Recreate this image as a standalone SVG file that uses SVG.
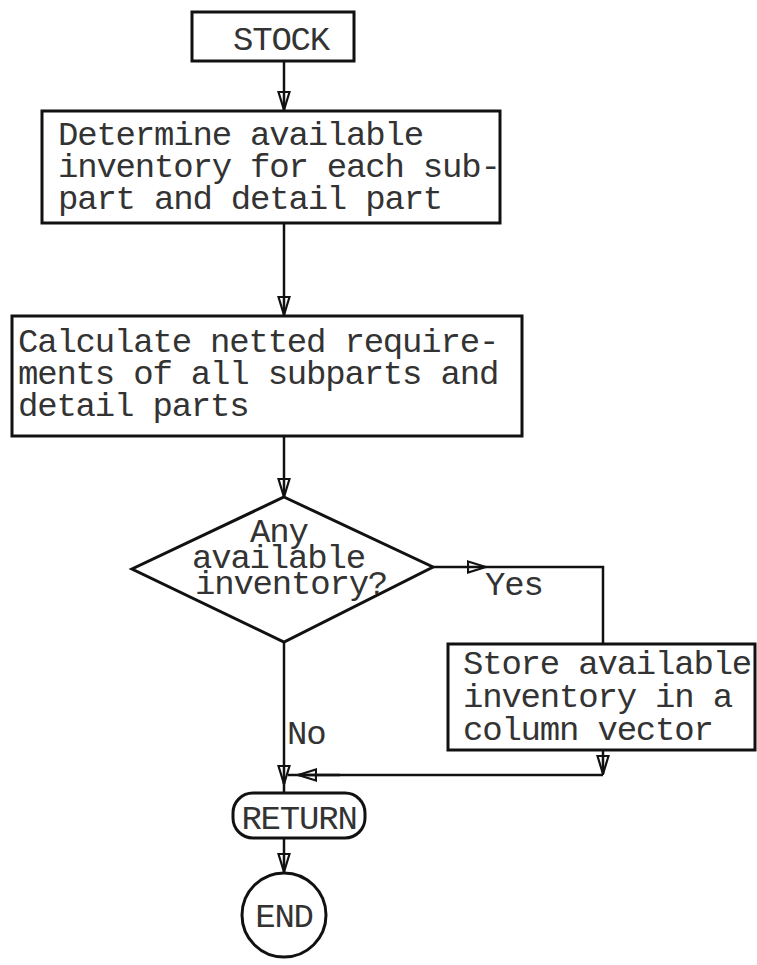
<svg xmlns="http://www.w3.org/2000/svg" width="757" height="965" viewBox="0 0 757 965">
  <style>
    .box { fill: none; stroke: #111; stroke-width: 3; }
    .line { fill: none; stroke: #111; stroke-width: 2.5; }
    .t { font-family: "Liberation Mono", "Courier New", monospace; font-size: 34px; letter-spacing: -1.2px; fill: #333; }
  </style>
  <defs>
    <!-- open typewriter-style arrowhead, the shaft shows through it -->
    <marker id="head" viewBox="0 0 20 14" refX="19" refY="7" markerWidth="20" markerHeight="14" markerUnits="userSpaceOnUse" orient="auto">
      <path d="M1,1.5 L19,7 L1,12.5 Z" fill="none" stroke="#111" stroke-width="2.2"/>
    </marker>
  </defs>
  <rect width="757" height="965" fill="#fff"/>

  <g id="connectors">
    <path class="line" d="M284,61 L284,110" marker-end="url(#head)"/>
    <path class="line" d="M284,223 L284,315" marker-end="url(#head)"/>
    <path class="line" d="M284,436 L284,497" marker-end="url(#head)"/>
    <path class="line" d="M433,567 L486,567" marker-end="url(#head)"/>
    <path class="line" d="M486,567 L603,567 L603,644"/>
    <path class="line" d="M603,750 L603,774" marker-end="url(#head)"/>
    <path class="line" d="M603,775 L288,775"/>
    <path class="line" d="M340,775 L298,775" marker-end="url(#head)"/>
    <path class="line" d="M284,642 L284,784" marker-end="url(#head)"/>
    <path class="line" d="M284,782 L284,793"/>
    <path class="line" d="M284,838 L284,872" marker-end="url(#head)"/>
  </g>

  <g id="stock">
    <rect class="box" x="192" y="12" width="162" height="49"/>
    <text class="t" x="233" y="50">STOCK</text>
  </g>

  <g id="determine">
    <rect class="box" x="42" y="111" width="458" height="112"/>
    <text class="t" x="58" y="145">Determine available</text>
    <text class="t" x="58" y="177">inventory for each sub-</text>
    <text class="t" x="58" y="209">part and detail part</text>
  </g>

  <g id="calculate">
    <rect class="box" x="12" y="316" width="510" height="120"/>
    <text class="t" x="18" y="352">Calculate netted require-</text>
    <text class="t" x="18" y="384">ments of all subparts and</text>
    <text class="t" x="18" y="416">detail parts</text>
  </g>

  <g id="decision">
    <polygon class="box" points="284,497 433,567 284,642 132,569"/>
    <text class="t" x="250" y="542">Any</text>
    <text class="t" x="192" y="568">available</text>
    <text class="t" x="195" y="594">inventory?</text>
  </g>

  <g id="labels">
    <text class="t" x="485" y="595">Yes</text>
    <text class="t" x="287" y="744">No</text>
  </g>

  <g id="store">
    <rect class="box" x="448" y="644" width="307" height="106"/>
    <text class="t" x="463" y="674">Store available</text>
    <text class="t" x="463" y="707">inventory in a</text>
    <text class="t" x="463" y="740">column vector</text>
  </g>

  <g id="return">
    <rect class="box" x="233" y="793" width="132" height="45" rx="20" ry="20"/>
    <text class="t" x="299" y="829" text-anchor="middle">RETURN</text>
  </g>

  <g id="end">
    <circle class="box" cx="284" cy="915" r="42"/>
    <text class="t" x="284" y="927" text-anchor="middle">END</text>
  </g>
</svg>
